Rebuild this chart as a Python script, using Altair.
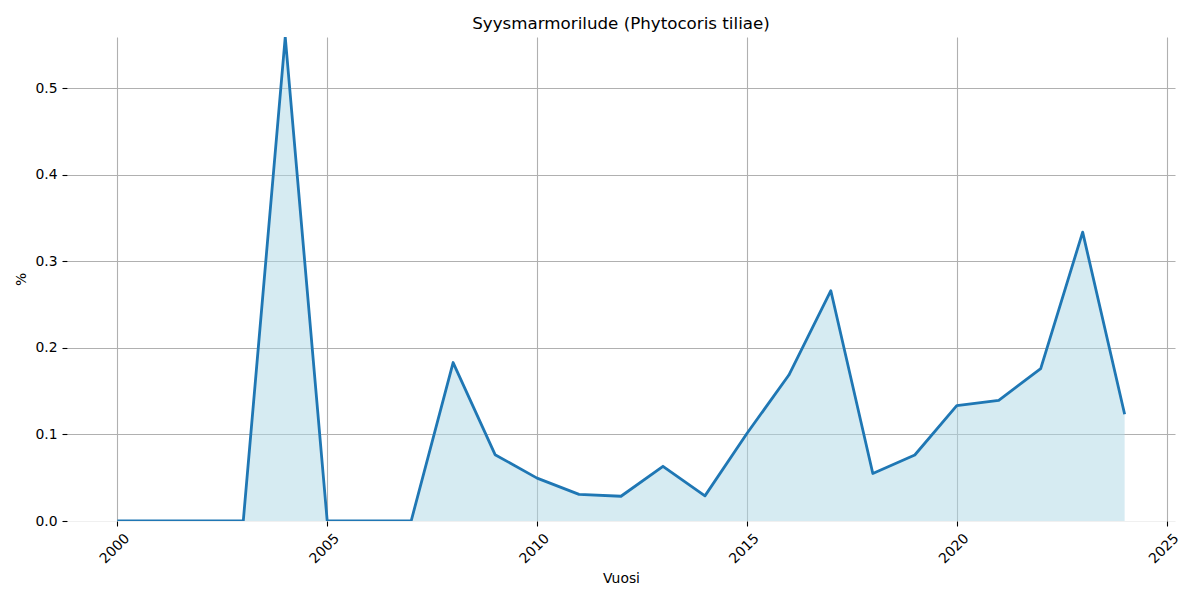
import altair as alt
import pandas as pd

years = [2000, 2001, 2002, 2003, 2004, 2005, 2006, 2007, 2008, 2009, 2010, 2011,
         2012, 2013, 2014, 2015, 2016, 2017, 2018, 2019, 2020, 2021, 2022, 2023, 2024]
values = [0.0, 0.0, 0.0, 0.0, 0.559, 0.0, 0.0, 0.0, 0.183, 0.0766, 0.0495, 0.0308,
          0.0286, 0.0632, 0.0290, 0.101, 0.1686, 0.266, 0.0549, 0.0762, 0.1333,
          0.1394, 0.1760, 0.3337, 0.1233]
x_ticks = [2000, 2005, 2010, 2015, 2020, 2025]
y_ticks = [0.0, 0.1, 0.2, 0.3, 0.4, 0.5]

df = pd.DataFrame({"Vuosi": years, "pct": values})

FONT = "DejaVu Sans"

x_enc = alt.X(
    "Vuosi:Q",
    scale=alt.Scale(domain=[1998.8, 2025.2], nice=False, zero=False),
    axis=alt.Axis(
        title="Vuosi",
        values=x_ticks,
        format="d",
        labelAngle=-45,
        labelAlign="right",
        labelBaseline="middle",
        labelOffset=9.5,
        labelPadding=10,
        tickSize=5,
        tickWidth=1.1,
        tickColor="#000000",
        domain=False,
        grid=True,
        gridColor="#b0b0b0",
        gridWidth=1.1,
        labelFont=FONT,
        labelFontSize=13.9,
        labelColor="#000000",
        titleFont=FONT,
        titleFontSize=13.9,
        titleFontWeight="normal",
        titleColor="#000000",
        titleY=61,
        titleBaseline="alphabetic",
    ),
)

y_enc = alt.Y(
    "pct:Q",
    scale=alt.Scale(domain=[0, 0.559], nice=False),
    axis=alt.Axis(
        title="%",
        values=y_ticks,
        format=".1f",
        tickSize=5,
        tickWidth=1.1,
        tickColor="#000000",
        labelPadding=5,
        domain=False,
        grid=True,
        gridColor={"condition": {"test": "datum.value === 0", "value": "#f0f0f0"}, "value": "#b0b0b0"},
        gridWidth=1.1,
        labelFont=FONT,
        labelFontSize=13.9,
        labelColor="#000000",
        titleFont=FONT,
        titleFontSize=13.9,
        titleFontWeight="normal",
        titleColor="#000000",
        titleAngle=-90,
        titleX=-46,
        titleBaseline="middle",
    ),
)

area = alt.Chart(df).mark_area(color="#add8e6", opacity=0.5, clip=True).encode(x=x_enc, y=y_enc)
line = alt.Chart(df).mark_line(color="#1f77b4", strokeWidth=2.8, strokeJoin="round", clip=True).encode(
    x="Vuosi:Q", y="pct:Q"
)

chart = (
    alt.layer(area, line)
    .properties(
        width=1108,
        height=484,
        background="white",
        autosize=alt.AutoSizeParams(type="none"),
        padding={"left": 59, "top": 29, "right": 17, "bottom": 71},
        title=alt.TitleParams(
            text="Syysmarmorilude (Phytocoris tiliae)",
            font=FONT,
            fontSize=16.7,
            fontWeight="normal",
            color="#000000",
            anchor="middle",
            frame="group",
            offset=4,
        ),
    )
    .configure_view(strokeWidth=0, stroke="transparent")
)

chart.save("out.html", embed_options={"renderer": "svg", "actions": False})
